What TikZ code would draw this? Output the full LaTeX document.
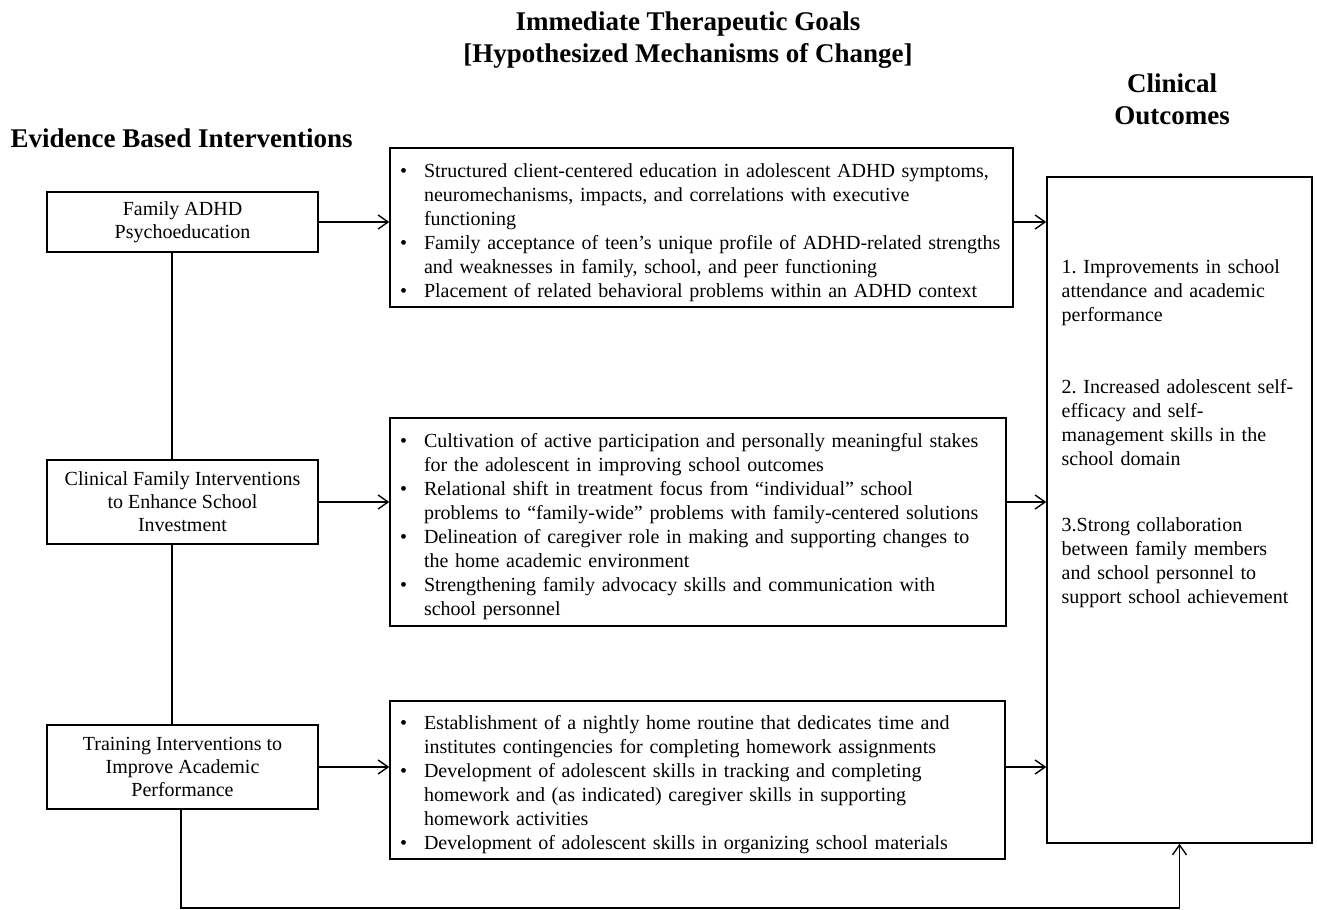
\documentclass[tikz,border=0pt]{standalone}
\usepackage{fontspec}
\setmainfont{Liberation Serif}
\usetikzlibrary{arrows.meta}
\frenchspacing

\newenvironment{goallist}{\begin{list}{\textbullet}{%
  \setlength{\leftmargin}{30pt}\setlength{\labelwidth}{13pt}%
  \setlength{\labelsep}{17pt}\setlength{\itemsep}{0pt}%
  \setlength{\parsep}{0pt}\setlength{\topsep}{0pt}%
  \setlength{\partopsep}{0pt}}\raggedright}{\end{list}}

\begin{document}
\begin{tikzpicture}[x=1pt, y=-1pt, line width=1.4pt,
    >={Straight Barb[length=10pt,width=14pt]},
    head/.style={font=\fontsize{27}{32}\selectfont\bfseries, align=center, inner sep=0},
    ebi/.style={draw, minimum width=271pt, align=center, inner sep=0,
        font=\fontsize{20}{23}\selectfont},
    goal/.style={draw, inner xsep=4pt, inner ysep=0, font=\fontsize{20}{24}\selectfont}]
	\useasboundingbox (0,0) rectangle (1317,910);

	% headings
	\node[head] (goals) at (688,40) {Immediate Therapeutic Goals\\{[}Hypothesized Mechanisms of Change{]}};
	\node[head] (clin) at (1172,99) {Clinical\\Outcomes};
	\node[head, anchor=base west] (evid) at (10,147) {Evidence Based Interventions};

	% interventions
	\node[ebi, minimum height=60pt] (fam) at (182.5,222) {Family ADHD\\Psychoeducation};
	\node[ebi, minimum height=84pt] (cfi) at (182.5,502) {Clinical Family Interventions\\to Enhance School\\Investment};
	\node[ebi, minimum height=84pt] (tia) at (182.5,767) {Training Interventions to\\Improve Academic\\Performance};

	% goals
	\node[goal, minimum width=623pt, minimum height=159pt, text width=615pt] (g1) at (701.5,227.5) {%
		\begin{goallist}
		\item Structured client-centered education in adolescent ADHD symptoms,\\neuromechanisms, impacts, and correlations with executive\\functioning
		\item Family acceptance of teen’s unique profile of ADHD-related strengths\\and weaknesses in family, school, and peer functioning
		\item Placement of related behavioral problems within an ADHD context
		\end{goallist}};
	\node[goal, minimum width=616pt, minimum height=208pt, text width=608pt] (g2) at (698,522) {%
		\begin{goallist}
		\item Cultivation of active participation and personally meaningful stakes\\for the adolescent in improving school outcomes
		\item Relational shift in treatment focus from “individual” school\\problems to “family-wide” problems with family-centered solutions
		\item Delineation of caregiver role in making and supporting changes to\\the home academic environment
		\item Strengthening family advocacy skills and communication with\\school personnel
		\end{goallist}};
	\node[goal, minimum width=615pt, minimum height=158pt, text width=607pt] (g3) at (697.5,780) {%
		\begin{goallist}
		\item Establishment of a nightly home routine that dedicates time and\\institutes contingencies for completing homework assignments
		\item Development of adolescent skills in tracking and completing\\homework and (as indicated) caregiver skills in supporting\\homework activities
		\item Development of adolescent skills in organizing school materials
		\end{goallist}};

	% outcomes
	\node[draw, minimum width=265pt, minimum height=666pt] (out) at (1179.5,510) {};
	\node[anchor=north west, inner sep=0, text width=248pt, align=left,
		font=\fontsize{20}{24}\selectfont] (outtxt) at (1061,259) {%
		1. Improvements in school\\attendance and academic\\performance\\[48pt]
		2. Increased adolescent self-\\efficacy and self-\\management skills in the\\school domain\\[42pt]
		3.Strong collaboration\\between family members\\and school personnel to\\support school achievement};

	% connectors
	\coordinate (spine) at (172,0);
	\coordinate (loop) at (181,908);
	\draw (fam.south -| spine) -- (cfi.north -| spine);
	\draw (cfi.south -| spine) -- (tia.north -| spine);
	\draw[->] (fam.east) -- (fam.east -| g1.west);
	\draw[->] (cfi.east) -- (cfi.east -| g2.west);
	\draw[->] (tia.east) -- (tia.east -| g3.west);
	\draw[->] (g1.east |- fam.east) -- (out.west |- fam.east);
	\draw[->] (g2.east |- cfi.east) -- (out.west |- cfi.east);
	\draw[->] (g3.east |- tia.east) -- (out.west |- tia.east);
	\draw[->] (tia.south -| loop) -- (loop) -- (loop -| out.south) -- (out.south);
\end{tikzpicture}
\end{document}
